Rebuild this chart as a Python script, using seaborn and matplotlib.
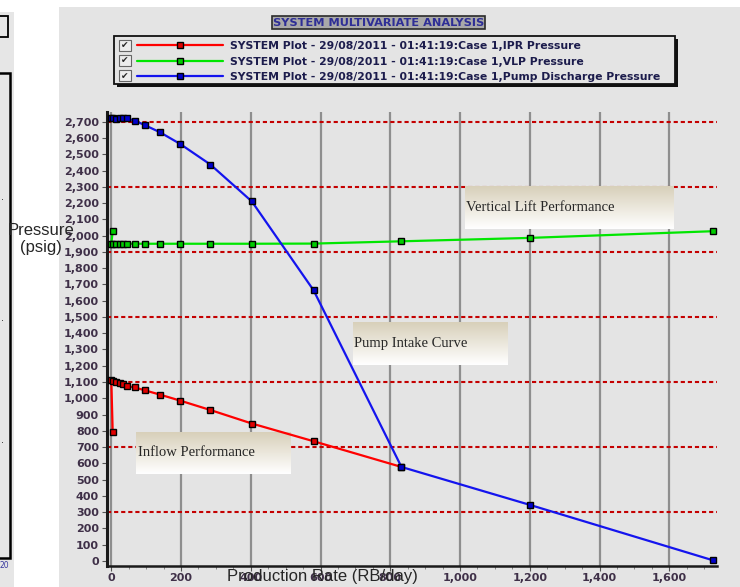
import numpy as np
import pandas as pd
import seaborn as sns
import matplotlib.pyplot as plt
from matplotlib.patches import Rectangle
from matplotlib.ticker import MultipleLocator, FuncFormatter
from matplotlib.colors import LinearSegmentedColormap

# values (rate in RB/day, pressure in psig)
ipr_rate = [4, 0, 4, 14, 24, 34, 46, 67, 96, 139, 197, 284, 403, 580, 832]
ipr_p = [790, 1110, 1108, 1100, 1094, 1086, 1074, 1067, 1049, 1023, 986, 928, 845, 736, 578]

vlp_rate = [4, 0, 4, 14, 24, 34, 46, 67, 96, 139, 197, 284, 403, 580, 832, 1200, 1724]
vlp_p = [2027, 1950, 1950, 1950, 1950, 1950, 1950, 1950, 1950, 1950, 1950, 1950, 1950, 1951, 1965, 1986, 2027]

pump_rate = [0, 4, 14, 24, 34, 46, 67, 96, 139, 197, 284, 403, 580, 832, 1200, 1724]
pump_p = [2720, 2720, 2716, 2726, 2725, 2720, 2707, 2679, 2636, 2564, 2437, 2210, 1664, 578, 345, 5]

series_names = ['SYSTEM Plot - 29/08/2011 - 01:41:19:Case 1,IPR Pressure',
                'SYSTEM Plot - 29/08/2011 - 01:41:19:Case 1,VLP Pressure',
                'SYSTEM Plot - 29/08/2011 - 01:41:19:Case 1,Pump Discharge Pressure']
red_levels = [300, 700, 1100, 1500, 1900, 2300, 2700]

sns.set_style('white')
plt.rcParams['font.family'] = ['DejaVu Sans']

W, H = 740, 587
def fx(x):
    return x / W
def fy(y):
    return 1 - y / H

fig = plt.figure(figsize=(7.4, 5.87), dpi=100)

# grey window backgrounds
fig.patches.append(Rectangle((fx(59), 0), fx(681), fy(7), transform=fig.transFigure,
                             fc='#e4e4e4', ec='none', zorder=-2))
fig.patches.append(Rectangle((0, 0), fx(14), fy(12), transform=fig.transFigure,
                             fc='#e6e6e6', ec='none', zorder=-2))
fig.patches.append(Rectangle((fx(-3), fy(37)), fx(11), 21 / H, transform=fig.transFigure,
                             fc='none', ec='black', lw=1.3, zorder=-1))
fig.patches.append(Rectangle((fx(-3), fy(558)), fx(13), 485 / H, transform=fig.transFigure,
                             fc='none', ec='black', lw=1.8, zorder=-1))
for yy in [197, 318, 440]:
    fig.text(fx(3), fy(yy), '.', fontsize=7, ha='center', va='center')
fig.text(fx(4), fy(565), '20', fontsize=5.5, color='#3a3aa0', ha='center', va='center')

ax = fig.add_axes([fx(107.3), fy(565.7), fx(716.7 - 107.3), (565.7 - 112.3) / H])
ax.set_facecolor('none')

df_ipr = pd.DataFrame({'rate': ipr_rate, 'pressure': ipr_p})
df_vlp = pd.DataFrame({'rate': vlp_rate, 'pressure': vlp_p})
df_pump = pd.DataFrame({'rate': pump_rate, 'pressure': pump_p})

sns.lineplot(data=df_ipr, x='rate', y='pressure', estimator=None, sort=False, ax=ax,
             color='#ff0000', lw=1.6, marker='s', markersize=5, markerfacecolor='#e00000',
             markeredgecolor='black', markeredgewidth=1, label=series_names[0], zorder=4)
sns.lineplot(data=df_vlp, x='rate', y='pressure', estimator=None, sort=False, ax=ax,
             color='#00e600', lw=1.6, marker='s', markersize=5, markerfacecolor='#00cc00',
             markeredgecolor='black', markeredgewidth=1, label=series_names[1], zorder=4)
sns.lineplot(data=df_pump, x='rate', y='pressure', estimator=None, sort=False, ax=ax,
             color='#1414ee', lw=1.6, marker='s', markersize=5, markerfacecolor='#0000cc',
             markeredgecolor='black', markeredgewidth=1, label=series_names[2], zorder=5)
handles, labels = ax.get_legend_handles_labels()
ax.get_legend().remove()

for lvl in red_levels:
    ax.axhline(lvl, color='#c40000', lw=1.5, ls=(0, (2, 1.4)), zorder=1.5)

# annotation boxes with a tan-to-white fade
fade = LinearSegmentedColormap.from_list('fade', ['#d8d0ba', '#ffffff'])
def note(text, x0, x1, y0, y1):
    grad = np.linspace(0, 1, 64).reshape(-1, 1)
    ax.imshow(grad, extent=(x0, x1, y0, y1), cmap=fade, aspect='auto',
              origin='upper', zorder=2)
    ax.text(x0 + 4, (y0 + y1) / 2 + 5, text, family='Liberation Serif', fontsize=10.5,
            va='center', ha='left', zorder=3)

note('Vertical Lift Performance', 1013, 1610, 2039, 2300)
note('Pump Intake Curve', 692, 1136, 1202, 1462)
note('Inflow Performance', 72, 514, 536, 791)

ax.set_xlim(-11.5, 1736)
ax.set_ylim(-29, 2758)
ax.xaxis.set_major_locator(MultipleLocator(200))
ax.xaxis.set_minor_locator(MultipleLocator(50))
ax.yaxis.set_major_locator(MultipleLocator(100))
ax.xaxis.set_major_formatter(FuncFormatter(lambda v, p: f'{v:,.0f}'))
ax.yaxis.set_major_formatter(FuncFormatter(lambda v, p: f'{v:,.0f}'))
ax.xaxis.grid(True, color='#8e8e8e', lw=1.6, zorder=0.5)
ax.set_axisbelow(True)

tick_col = '#3f3048'
ax.tick_params(axis='both', which='major', labelsize=8, labelcolor=tick_col,
               colors='#555555', length=3.5, width=0.8, pad=2.5)
ax.tick_params(axis='x', which='major', pad=1.5)
ax.tick_params(axis='x', which='minor', bottom=True, length=2, width=0.6, colors='#777777')
ax.tick_params(axis='y', left=True)
ax.tick_params(axis='x', bottom=True)
for lab in ax.get_xticklabels() + ax.get_yticklabels():
    lab.set_fontweight('bold')

for side in ['top', 'right']:
    ax.spines[side].set_visible(False)
ax.spines['left'].set_color('#1a1a1a')
ax.spines['left'].set_linewidth(2.2)
ax.spines['bottom'].set_color('#1a1a1a')
ax.spines['bottom'].set_linewidth(1.8)
ax.set_xlabel('')
ax.set_ylabel('')

fig.text(fx(41), fy(239), 'Pressure\n(psig)', family='Liberation Sans', fontsize=12,
         ha='center', va='center')
fig.text(fx(322), fy(577), 'Production Rate (RB/day)', family='Liberation Sans',
         fontsize=12, ha='center', va='center')

# title tag
fig.text(fx(378.5), fy(22.5), 'SYSTEM MULTIVARIATE ANALYSIS', fontsize=8.2, fontweight='bold',
         color='#2e2e96', ha='center', va='center',
         bbox=dict(boxstyle='square,pad=0.12', fc='#a9a9a9', ec='#2a2a2a', lw=1.2))

# legend panel with check boxes
fig.patches.append(Rectangle((fx(117), fy(87)), fx(561), 48 / H, transform=fig.transFigure,
                             fc='#111111', ec='none', zorder=2))
fig.patches.append(Rectangle((fx(114), fy(84)), fx(561), 48 / H, transform=fig.transFigure,
                             fc='#e4e4e4', ec='#111111', lw=1.3, zorder=3))
for yy in [45.5, 60.7, 76]:
    fig.patches.append(Rectangle((fx(119), fy(yy + 5.5)), fx(12), 11 / H,
                                 transform=fig.transFigure,
                                 fc='#ececec', ec='#666666', lw=0.8, zorder=4))
    fig.text(fx(125), fy(yy), '\u2714', fontsize=6.5, ha='center', va='center', zorder=5)

leg = fig.legend(handles, labels, loc='upper left', bbox_to_anchor=(fx(135), fy(39)),
                 bbox_transform=fig.transFigure, frameon=False, numpoints=1,
                 borderaxespad=0, handlelength=7.95, handletextpad=0.65, borderpad=0.2,
                 labelspacing=0.51, prop={'size': 7.8, 'weight': 'bold'})
leg.set_zorder(6)
for t in leg.get_texts():
    t.set_color('#1c1c4c')

fig.savefig('out.png', dpi=100)
